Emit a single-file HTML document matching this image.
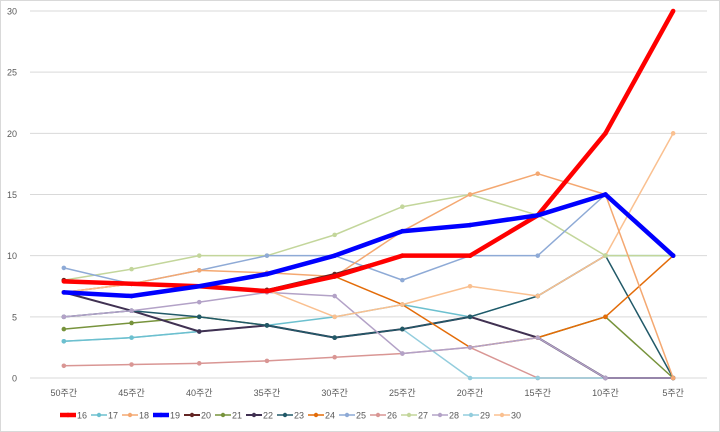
<!DOCTYPE html>
<html><head><meta charset="utf-8"><style>
body{margin:0;background:#fff;}
svg{display:block;font-family:"Liberation Sans","Noto Sans CJK KR",sans-serif;}
</style></head><body>
<svg id="chart" width="720" height="432" viewBox="0 0 720 432">
<rect x="0.5" y="0.5" width="719" height="431" fill="#fff" stroke="#d9d9d9"/>
<g id="grid"></g><g id="axes"></g><g id="series"></g><g id="legend"></g>
</svg>
<script>
const categories=["50주간","45주간","40주간","35주간","30주간","25주간","20주간","15주간","10주간","5주간"];
const yTicks=[0,5,10,15,20,25,30];
const seriesNames=["16","17","18","19","20","21","22","23","24","25","26","27","28","29","30"];
const s16=[7.9,7.7,7.5,7.1,8.3,10,10,13.3,20,30];
const s17=[3,3.3,3.8,4.3,5,6,5,6.7,10,10];
const s18=[8,7.7,8.8,8.6,8.3,12,15,16.7,15,0];
const s19=[7,6.7,7.5,8.5,10,12,12.5,13.3,15,10];
const s20=[8,7.7,7.5,7.2,8.5,10,10,13.3,15,10];
const s21=[4,4.5,5,4.3,3.3,4,5,3.3,5,0];
const s22=[7,5.5,3.8,4.3,3.3,4,5,3.3,0,0];
const s23=[5,5.5,5,4.3,3.3,4,5,6.7,10,0];
const s24=[7,7.7,7.5,7.2,8.3,6,2.5,3.3,5,10];
const s25=[9,7.7,8.8,10,10,8,10,10,15,10];
const s26=[1,1.1,1.2,1.4,1.7,2,2.5,0,0,0];
const s27=[8,8.9,10,10,11.7,14,15,13.3,10,10];
const s28=[5,5.5,6.2,7,6.7,2,2.5,3.3,0,0];
const s29=[3,3.3,3.8,4.3,3.3,4,0,0,0,0];
const s30=[7,7.7,7.5,7.2,5,6,7.5,6.7,10,20];
const seriesData=[s16,s17,s18,s19,s20,s21,s22,s23,s24,s25,s26,s27,s28,s29,s30];
const colors=["#ff0000","#6cc0cf","#f4a871","#0000ff","#632523","#77933c","#403152","#215968","#e36c09","#8eaad6","#d99694","#c3d69b","#b3a2c7","#93cddd","#fac090"];
const widths=[4.5,1.5,1.5,4.5,2,1.5,2,1.5,1.5,1.5,1.5,1.5,1.5,1.5,1.5];
const NS="http://www.w3.org/2000/svg";
const X0=30,PW=677,YB=378,YT=11,YMAX=30;
function xPos(i){return X0+PW/categories.length*(i+0.5);}
function yPos(v){return YB-(YB-YT)*v/YMAX;}
function mk(tag,attrs,parent){const e=document.createElementNS(NS,tag);for(const k in attrs)e.setAttribute(k,attrs[k]);parent.appendChild(e);return e;}
const grid=document.getElementById('grid'),axes=document.getElementById('axes'),ser=document.getElementById('series'),leg=document.getElementById('legend');
yTicks.forEach(t=>{
 const l=mk('line',{x1:X0,x2:X0+PW,y1:yPos(t),y2:yPos(t),stroke:'#d9d9d9','stroke-width':1},grid);
 
 
 const tx=mk('text',{x:17,y:yPos(t)+3.5,'text-anchor':'end','font-size':9,fill:'#595959'},axes);
 tx.textContent=t;
 
 
});
categories.forEach((c,i)=>{
 const tx=mk('text',{x:xPos(i),y:396,'text-anchor':'middle','font-size':9,fill:'#595959'},axes);
 tx.textContent=c;
 
 
});
const order=[10,13,1,5,6,7,8,12,14,11,9,2,4,0,3];
order.forEach(k=>{
 const d=seriesData[k];
 const g=mk('g',{},ser);
 
 
 const pts=d.map((v,i)=>xPos(i)+','+yPos(v)).join(' ');
 mk('polyline',{points:pts,fill:'none',stroke:colors[k],'stroke-width':widths[k],'stroke-linejoin':'round'},g);
 d.forEach((v,i)=>{
  const c=mk('circle',{cx:xPos(i),cy:yPos(v),r:2.3,fill:colors[k]},g);
  
  
 });
});
let lx=60;
seriesNames.forEach((n,k)=>{
 const g=mk('g',{},leg);
 
 
 mk('line',{x1:lx,x2:lx+16,y1:415,y2:415,stroke:colors[k],'stroke-width':widths[k]},g);
 mk('circle',{cx:lx+8,cy:415,r:2.2,fill:colors[k]},g);
 const t=mk('text',{x:lx+17,y:418.5,'font-size':9,fill:'#595959'},g);
 t.textContent=n;
 lx+=31;
});
</script>
</body></html>
